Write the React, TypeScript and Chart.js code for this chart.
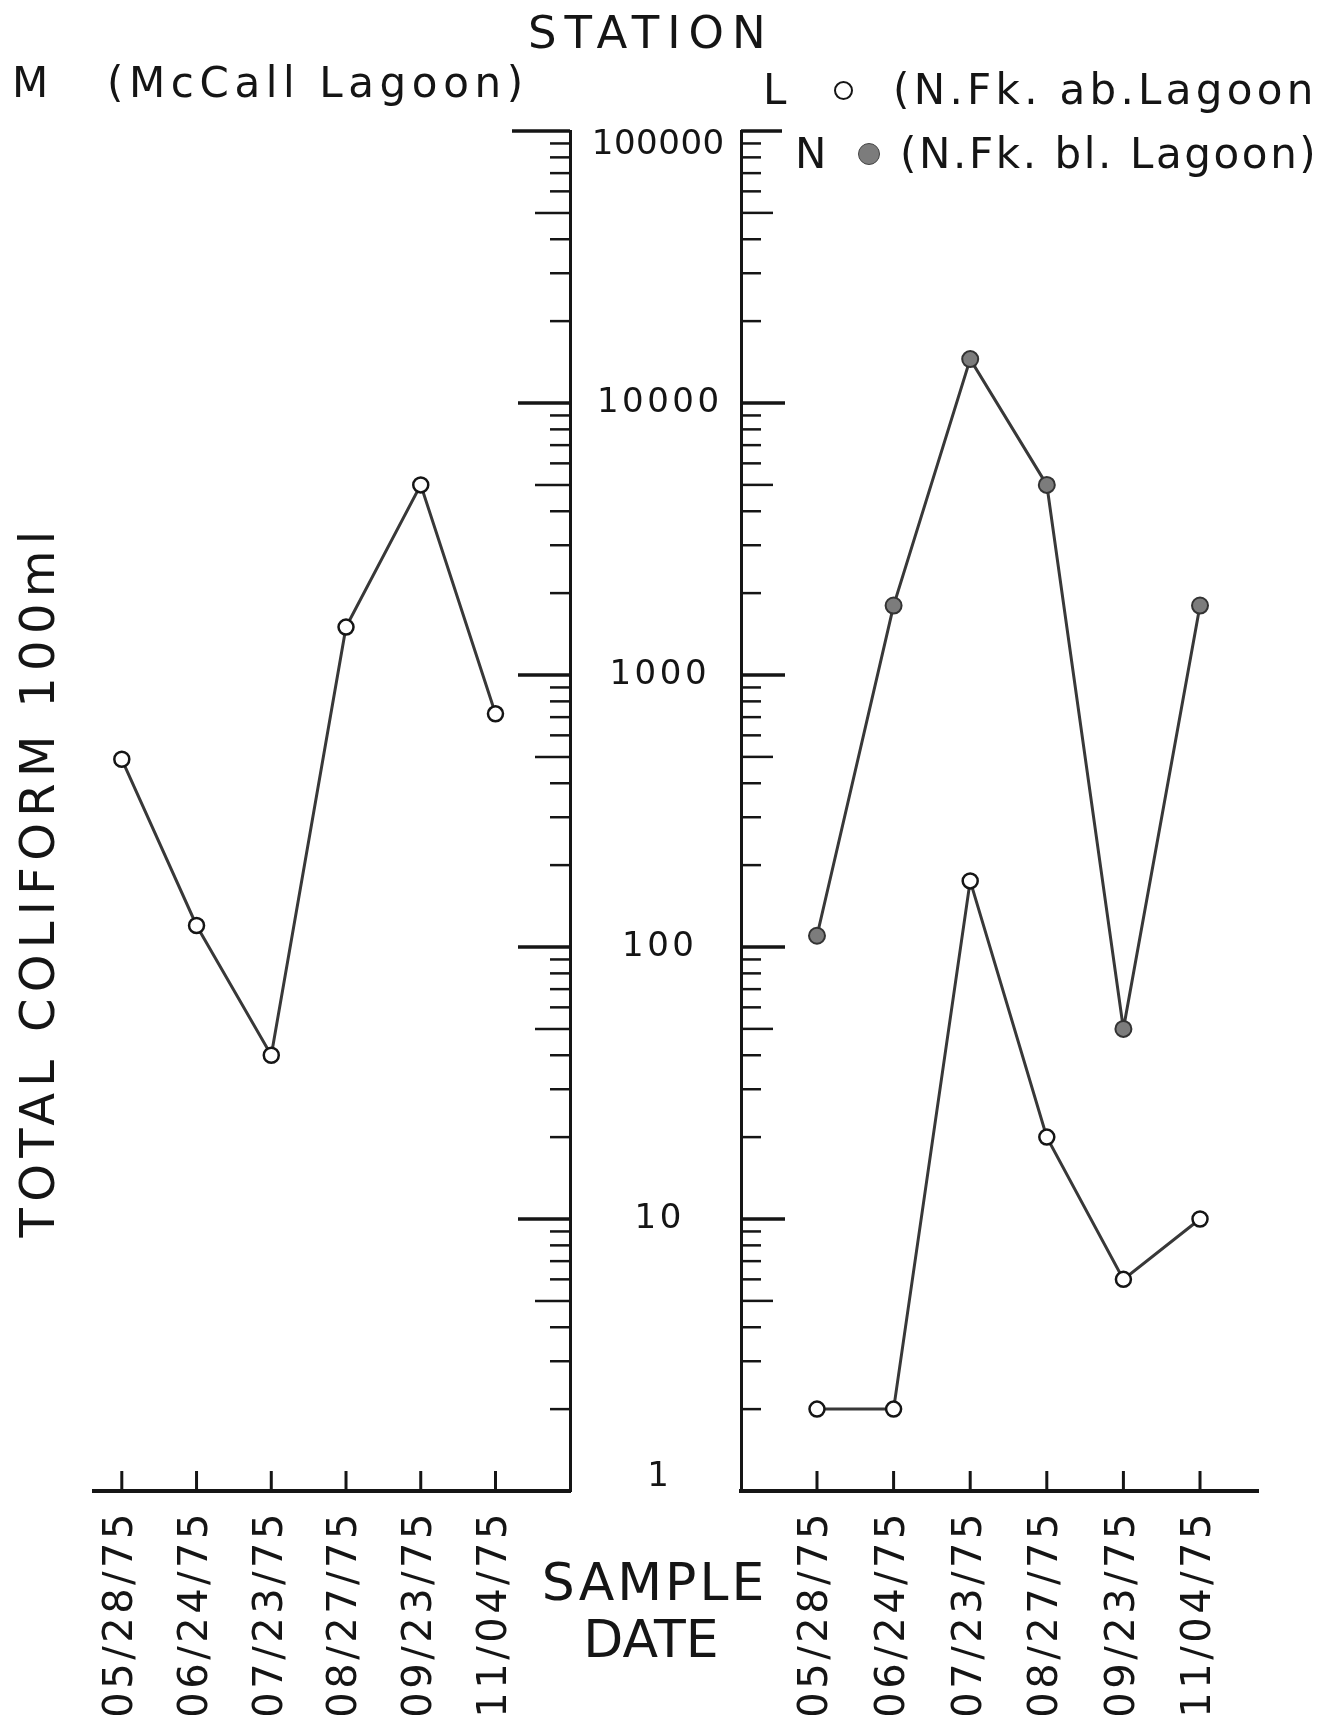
import React, { useEffect, useRef } from "react";
import { Chart, registerables } from "chart.js";

Chart.register(...registerables);

const FONT = '"DejaVu Sans", "Liberation Sans", sans-serif';
const INK = "#151515";
const LINE = "#383838";
const PAGE_W = 1335;
const PAGE_H = 1726;

// Categories (sample dates)
const sampleDates = ["05/28/75", "06/24/75", "07/23/75", "08/27/75", "09/23/75", "11/04/75"];

// Series: total coliform / 100 ml
const mcCallLagoonM = [490, 120, 40, 1500, 5000, 720];
const nfkAboveLagoonL = [2, 2, 175, 20, 6, 10];
const nfkBelowLagoonN = [110, 1800, 14500, 5000, 50, 1800];

// Y tick labels
const decadeTickValues = [100000, 10000, 1000, 100, 10, 1];
const decadeTickLabels = ["100000", "10000", "1000", "100", "10", "1"];
const minorTickMultipliers = [2, 3, 4, 5, 6, 7, 8, 9];

// Texts
const stationTitle = "STATION";
const stationMCode = "M";
const stationMName = "(McCall Lagoon)";
const stationLCode = "L";
const stationLName = "(N.Fk. ab.Lagoon";
const stationNCode = "N";
const stationNName = "(N.Fk. bl. Lagoon)";
const yAxisTitle = "TOTAL COLIFORM 100ml";
const xAxisTitleLines = ["SAMPLE", "DATE"];

const axisDetailPlugin = {
  id: "axisDetail",
  beforeDraw(chart: any) {
    chart.ctx.letterSpacing = "3.5px";
  },
  afterDraw(chart: any, _args: any, opts: any) {
    const { ctx, chartArea, scales } = chart;
    const ys = scales.y;
    const xs = scales.x;
    const dir = opts.dir;
    const ax = dir < 0 ? chartArea.right : chartArea.left;
    ctx.save();
    ctx.letterSpacing = "0px";
    ctx.strokeStyle = INK;
    ctx.lineCap = "butt";
    const tick = (v: number, len: number, w: number) => {
      const y = ys.getPixelForValue(v);
      ctx.lineWidth = w;
      ctx.beginPath();
      ctx.moveTo(ax, y);
      ctx.lineTo(ax + dir * len, y);
      ctx.stroke();
    };
    for (let e = 0; e < 5; e++) {
      const base = Math.pow(10, e);
      if (e > 0) tick(base, opts.longLen, 3.5);
      minorTickMultipliers.forEach((m) => tick(m * base, m === 5 ? opts.medLen : opts.shortLen, 2.5));
    }
    tick(100000, opts.capLen, 3.5);
    ctx.lineWidth = 3;
    sampleDates.forEach((_d, i) => {
      const x = xs.getPixelForValue(i);
      ctx.beginPath();
      ctx.moveTo(x, chartArea.bottom);
      ctx.lineTo(x, chartArea.bottom - 20);
      ctx.stroke();
    });
    if (opts.centerLabels) {
      ctx.fillStyle = INK;
      ctx.font = `34px ${FONT}`;
      ctx.textAlign = "center";
      ctx.textBaseline = "middle";
      decadeTickValues.forEach((v, i) => {
        const label = decadeTickLabels[i];
        const ls = label.length > 5 ? 0.5 : 3.5;
        ctx.letterSpacing = `${ls}px`;
        const nudge = i === 0 ? 14 : i === decadeTickValues.length - 1 ? -14 : 0;
        ctx.fillText(label, chartArea.left - 83 + ls / 2, ys.getPixelForValue(v) + nudge);
      });
    }
    ctx.restore();
  },
};

type PanelProps = {
  left: number;
  width: number;
  yPosition: "left" | "right";
  padLeft: number;
  padRight: number;
  yAxisWidth: number;
  xMin: number;
  xMax: number;
  datasets: any[];
  detail: any;
};

function Panel(p: PanelProps) {
  const ref = useRef<HTMLCanvasElement>(null);
  useEffect(() => {
    const chart = new Chart(ref.current as HTMLCanvasElement, {
      type: "line",
      data: { datasets: p.datasets },
      options: {
        animation: false,
        responsive: false,
        devicePixelRatio: 1,
        layout: { padding: { left: p.padLeft, right: p.padRight, top: 131, bottom: 0 } },
        plugins: {
          legend: { display: false },
          tooltip: { enabled: false },
          axisDetail: p.detail,
        } as any,
        scales: {
          x: {
            type: "linear",
            position: "bottom",
            min: p.xMin,
            max: p.xMax,
            afterBuildTicks: (s: any) => {
              s.ticks = sampleDates.map((_d, i) => ({ value: i }));
            },
            afterFit: (s: any) => {
              s.height = PAGE_H - 1491;
            },
            grid: { display: false, drawTicks: false },
            border: { display: true, width: 4, color: INK },
            ticks: {
              autoSkip: false,
              minRotation: 90,
              maxRotation: 90,
              padding: 19,
              color: INK,
              font: { family: FONT, size: 40 },
              callback: (v: any) => sampleDates[Math.round(Number(v))] ?? "",
            },
          },
          y: {
            type: "logarithmic",
            position: p.yPosition,
            min: 1,
            max: 100000,
            afterFit: (s: any) => {
              s.width = p.yAxisWidth;
            },
            grid: { display: false, drawTicks: false },
            border: { display: true, width: 3, color: INK },
            ticks: { display: false },
          },
        } as any,
      },
      plugins: [axisDetailPlugin as any],
    });
    return () => chart.destroy();
  }, []);
  return (
    <canvas
      ref={ref}
      width={p.width}
      height={PAGE_H}
      style={{ position: "absolute", left: p.left, top: 0, width: p.width, height: PAGE_H }}
    />
  );
}

const openSeries = (label: string, values: number[]) => ({
  label,
  data: values.map((y, i) => ({ x: i, y })),
  borderColor: LINE,
  borderWidth: 3,
  pointRadius: 7.5,
  pointBorderWidth: 2.5,
  pointBackgroundColor: "#ffffff",
  pointBorderColor: INK,
  tension: 0,
  clip: false,
});

const filledSeries = (label: string, values: number[]) => ({
  label,
  data: values.map((y, i) => ({ x: i, y })),
  borderColor: LINE,
  borderWidth: 3,
  pointRadius: 8,
  pointBorderWidth: 2,
  pointBackgroundColor: "#7c7c7c",
  pointBorderColor: "#333333",
  tension: 0,
  clip: false,
});

function Txt(props: {
  text: string;
  x: number;
  baseline: number;
  size: number;
  ls?: number;
  center?: boolean;
}) {
  const { text, x, baseline, size } = props;
  const ls = props.ls ?? 0;
  const style: any = {
    position: "absolute",
    top: baseline - 0.846 * size,
    fontSize: size,
    lineHeight: `${size}px`,
    letterSpacing: `${ls}px`,
    whiteSpace: "pre",
    fontFamily: FONT,
    color: INK,
  };
  if (props.center) {
    const w = 600;
    style.left = x - w / 2 + ls / 2;
    style.width = w;
    style.textAlign = "center";
  } else {
    style.left = x;
  }
  return <div style={style}>{text}</div>;
}

export default function App() {
  const yTitleSize = 48;
  return (
    <div
      style={{
        position: "absolute",
        left: 0,
        top: 0,
        width: PAGE_W,
        height: PAGE_H,
        background: "#ffffff",
        overflow: "hidden",
        fontFamily: FONT,
      }}
    >
      <Panel
        left={0}
        width={580}
        yPosition="right"
        padLeft={94}
        padRight={0}
        yAxisWidth={7}
        xMin={-0.372}
        xMax={5.997}
        datasets={[openSeries("M (McCall Lagoon)", mcCallLagoonM)]}
        detail={{ dir: -1, longLen: 52, medLen: 35, shortLen: 20, capLen: 58, centerLabels: false }}
      />
      <Panel
        left={580}
        width={755}
        yPosition="left"
        padLeft={155}
        padRight={77}
        yAxisWidth={6}
        xMin={-0.992}
        xMax={5.757}
        datasets={[
          filledSeries("N (N.Fk. bl. Lagoon)", nfkBelowLagoonN),
          openSeries("L (N.Fk. ab.Lagoon)", nfkAboveLagoonL),
        ]}
        detail={{ dir: 1, longLen: 44, medLen: 32, shortLen: 20, capLen: 41, centerLabels: true }}
      />

      <Txt text={stationTitle} x={528} baseline={48} size={45} ls={8} />
      <Txt text={stationMCode} x={12} baseline={98} size={42} />
      <Txt text={stationMName} x={107} baseline={98} size={42} ls={5.6} />

      <Txt text={stationLCode} x={763} baseline={105} size={42} />
      <div
        style={{
          position: "absolute",
          left: 843 - 9.5,
          top: 90 - 9.5,
          width: 19,
          height: 19,
          boxSizing: "border-box",
          border: `2.5px solid ${INK}`,
          borderRadius: "50%",
          background: "#fff",
        }}
      />
      <Txt text={stationLName} x={893} baseline={105} size={42} ls={4.3} />

      <Txt text={stationNCode} x={795} baseline={169} size={42} />
      <div
        style={{
          position: "absolute",
          left: 869 - 11,
          top: 154 - 11,
          width: 22,
          height: 22,
          boxSizing: "border-box",
          border: "1.5px solid #444",
          borderRadius: "50%",
          background: "#7c7c7c",
        }}
      />
      <Txt text={stationNName} x={900} baseline={169} size={42} ls={2.6} />

      <div
        style={{
          position: "absolute",
          left: 37.4 - 450,
          top: 881 - yTitleSize / 2,
          width: 900,
          height: yTitleSize,
          lineHeight: `${yTitleSize}px`,
          fontSize: yTitleSize,
          letterSpacing: "6.3px",
          textAlign: "center",
          whiteSpace: "pre",
          color: INK,
          fontFamily: FONT,
          transform: "rotate(-90deg)",
          transformOrigin: "50% 50%",
        }}
      >
        {yAxisTitle}
      </div>

      <Txt text={xAxisTitleLines[0]} x={653} baseline={1600} size={52} ls={3} center />
      <Txt text={xAxisTitleLines[1]} x={651} baseline={1657} size={52} center />
    </div>
  );
}
